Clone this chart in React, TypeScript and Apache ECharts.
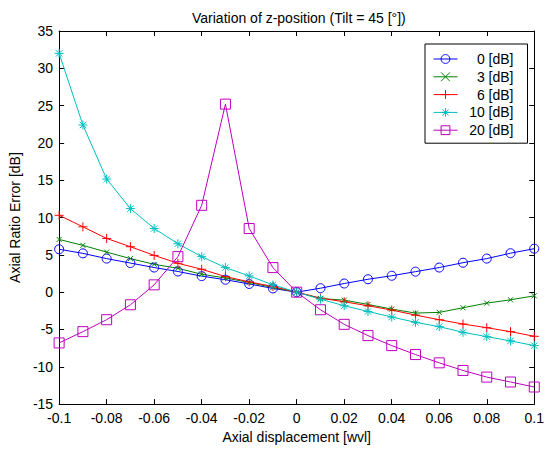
import React, { useEffect, useRef } from "react";
import * as echarts from "echarts";

const xPositions = [-0.1, -0.09, -0.08, -0.07, -0.06, -0.05, -0.04, -0.03, -0.02, -0.01, 0, 0.01, 0.02, 0.03, 0.04, 0.05, 0.06, 0.07, 0.08, 0.09, 0.1];

const seriesNames = ["0 [dB]", "3 [dB]", "6 [dB]", "10 [dB]", "20 [dB]"];

const values0dB = [5.75, 5.2, 4.5, 3.9, 3.3, 2.77, 2.15, 1.67, 1.1, 0.5, 0, 0.53, 1.16, 1.73, 2.2, 2.75, 3.3, 3.95, 4.5, 5.22, 5.83];
const values3dB = [7.07, 6.27, 5.37, 4.5, 3.73, 3.2, 2.4, 1.9, 1.3, 0.62, 0, -0.84, -1.07, -1.64, -2.27, -2.8, -2.71, -2.09, -1.47, -1.02, -0.49];
const values6dB = [10.3, 8.76, 7.2, 6.09, 4.93, 3.87, 3.07, 2.09, 1.38, 0.76, 0, -0.8, -1.29, -1.82, -2.4, -3.07, -3.69, -4.27, -4.76, -5.29, -5.91];
const values10dB = [32.0, 22.4, 15.16, 11.2, 8.53, 6.49, 4.76, 3.29, 2.18, 0.98, 0, -0.93, -1.82, -2.58, -3.33, -4.04, -4.62, -5.38, -5.96, -6.53, -7.16];
const values20dB = [-6.8, -5.29, -3.69, -1.69, 0.98, 4.76, 11.64, 25.2, 8.53, 3.29, 0, -2.36, -4.31, -5.82, -7.16, -8.36, -9.47, -10.49, -11.38, -12.04, -12.71];

const allValues = [values0dB, values3dB, values6dB, values10dB, values20dB];
const colors = ["#0000ff", "#008000", "#ff0000", "#00bfbf", "#bf00bf"];
const symbols = [
  "circle",
  "path://M0,0L10,10M10,0L0,10",
  "path://M5,0L5,10M0,5L10,5",
  "path://M5,0L5,10M0,5L10,5M1.5,1.5L8.5,8.5M8.5,1.5L1.5,8.5",
  "rect",
];
const symbolSizes = [9, 5, 9, 9, 10];

const FONT = "'Liberation Sans', Arial, sans-serif";

export default function App() {
  const ref = useRef<HTMLDivElement>(null);
  useEffect(() => {
    if (!ref.current) return;
    const chart = echarts.init(ref.current, null, { renderer: "svg" });
    const axisCommon = {
      axisLine: { show: true, onZero: false, lineStyle: { color: "#000", width: 1 } },
      axisTick: { show: true, inside: true, length: 5, lineStyle: { color: "#000" } },
      splitLine: { show: false },
    };
    const option = {
      animation: false,
      backgroundColor: "#fff",
      textStyle: { fontFamily: FONT },
      title: {
        text: "Variation of z-position (Tilt = 45 [°])",
        left: 187,
        top: 6,
        textStyle: { fontFamily: FONT, fontSize: 14, fontWeight: "normal", color: "#000" },
      },
      grid: { left: 59, right: 12, top: 31, bottom: 44, containLabel: false },
      legend: {
        orient: "vertical",
        left: 425,
        top: 44,
        padding: [8, 14, 6, 8],
        borderColor: "#000",
        borderWidth: 1,
        backgroundColor: "#fff",
        itemWidth: 24,
        itemHeight: 11,
        itemGap: 3.8,
        lineStyle: { width: 1 },
        itemStyle: { borderWidth: 1 },
        data: seriesNames,
        formatter: (name: string) => "{a|" + name + "}",
        textStyle: {
          fontFamily: FONT,
          fontSize: 14,
          color: "#000",
          rich: { a: { width: 51, align: "right", fontSize: 14, lineHeight: 14, fontFamily: FONT, color: "#000" } },
        },
      },
      xAxis: [
        {
          type: "value",
          position: "bottom",
          min: -0.1,
          max: 0.1,
          interval: 0.02,
          name: "Axial displacement [wvl]",
          nameLocation: "middle",
          nameGap: 24,
          nameTextStyle: { fontFamily: FONT, fontSize: 14, color: "#000" },
          axisLabel: { margin: 7, fontFamily: FONT, fontSize: 14, color: "#000", formatter: (v: number) => String(Math.round(v * 100) / 100) },
          ...axisCommon,
        },
        {
          type: "value",
          position: "top",
          min: -0.1,
          max: 0.1,
          interval: 0.02,
          axisLabel: { show: false },
          ...axisCommon,
        },
      ],
      yAxis: [
        {
          type: "value",
          position: "left",
          min: -15,
          max: 35,
          interval: 5,
          name: "Axial Ratio Error [dB]",
          nameLocation: "middle",
          nameGap: 29,
          nameTextStyle: { fontFamily: FONT, fontSize: 14, color: "#000" },
          axisLabel: { margin: 6, fontFamily: FONT, fontSize: 14, color: "#000" },
          ...axisCommon,
        },
        {
          type: "value",
          position: "right",
          min: -15,
          max: 35,
          interval: 5,
          axisLabel: { show: false },
          ...axisCommon,
        },
      ],
      series: allValues.map((vals, i) => ({
        name: seriesNames[i],
        type: "line",
        xAxisIndex: 0,
        yAxisIndex: 0,
        data: xPositions.map((x, j) => [x, vals[j]]),
        symbol: symbols[i],
        symbolSize: symbolSizes[i],
        showAllSymbol: true,
        lineStyle: { color: colors[i], width: 1 },
        itemStyle: { color: "transparent", borderColor: colors[i], borderWidth: 1 },
        emphasis: { disabled: true },
      })),
    };
    chart.setOption(option as any);
    return () => chart.dispose();
  }, []);
  return <div ref={ref} style={{ width: 547, height: 449, position: "absolute", left: 0, top: 0 }} />;
}
